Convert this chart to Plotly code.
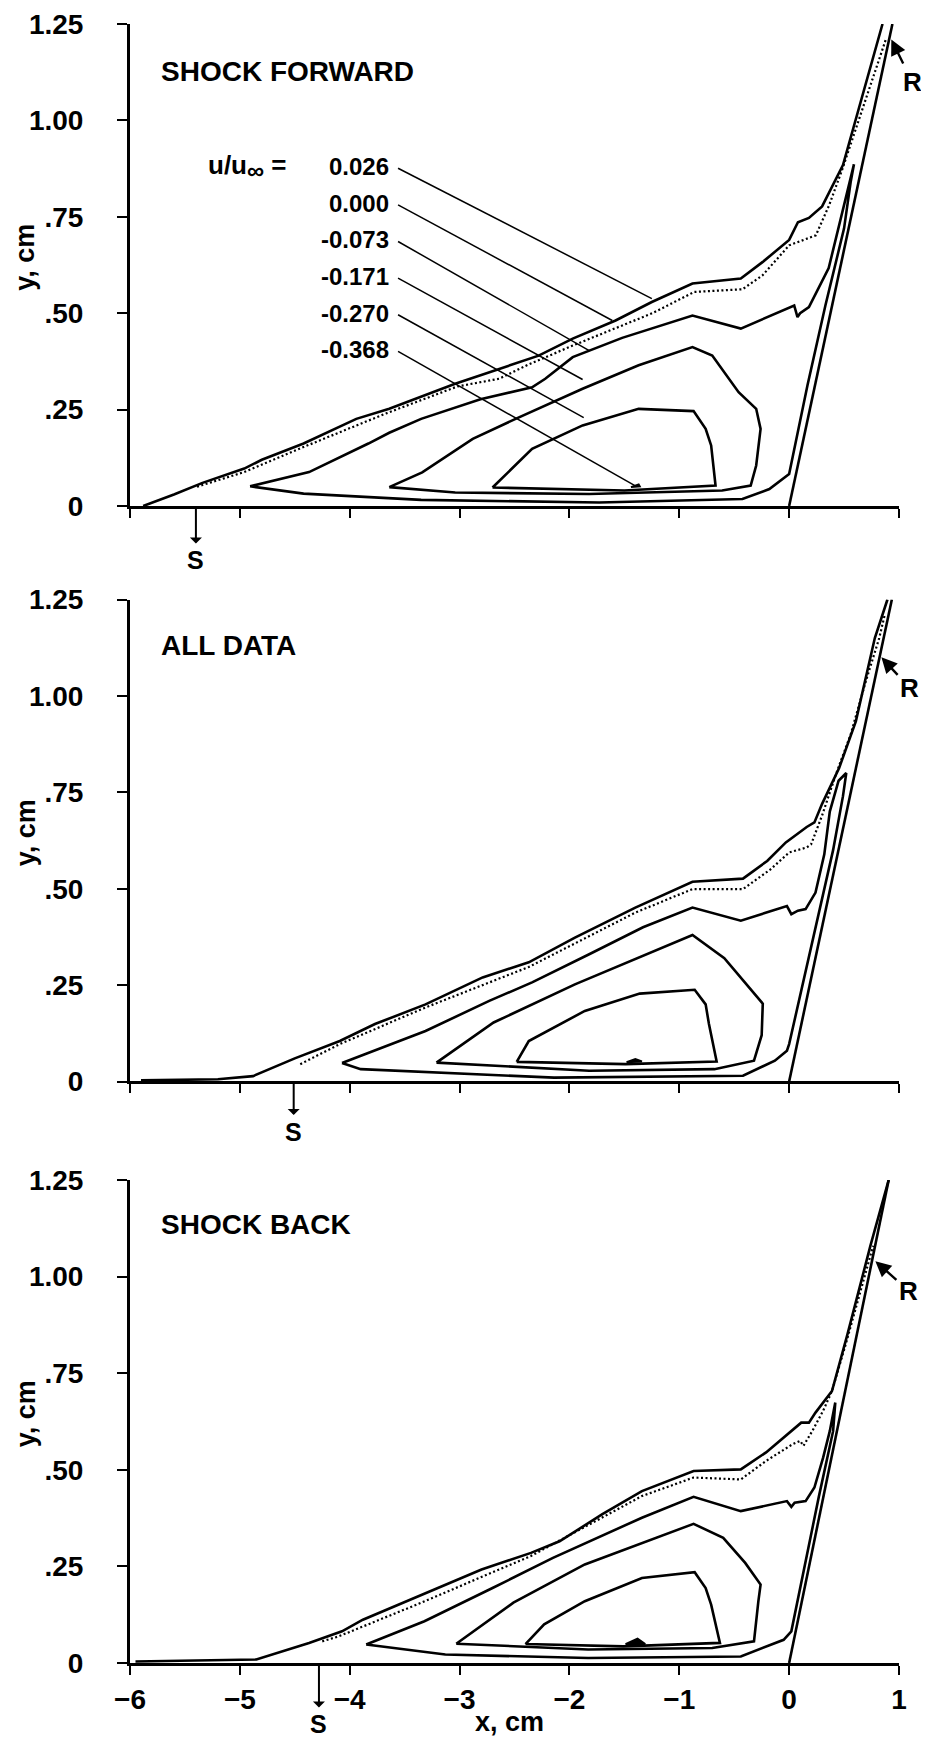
import plotly.graph_objects as go

# ---------------- text / ticks ----------------
PANEL_TITLES = ["SHOCK FORWARD", "ALL DATA", "SHOCK BACK"]
PANEL_TITLE_Y = [1.128, 1.13, 1.135]
LEVEL_LABELS = ["0.026", "0.000", "-0.073", "-0.171", "-0.270", "-0.368"]
LEVEL_LABEL_Y = [0.88, 0.785, 0.69, 0.595, 0.50, 0.405]
LEADER_END_X = [-1.25, -1.61, -1.82, -1.88, -1.87, -1.40]
LEADER_END_Y = [0.538, 0.481, 0.403, 0.328, 0.229, 0.052]
X_TICKS = [-6, -5, -4, -3, -2, -1, 0, 1]
X_TICK_TEXT = ["\u22126", "\u22125", "\u22124", "\u22123", "\u22122", "\u22121", "0", "1"]
Y_TICKS = [0, 0.25, 0.5, 0.75, 1.0, 1.25]
Y_TICK_TEXT = ["0", ".25", ".50", ".75", "1.00", "1.25"]
S_X = [-5.40, -4.51, -4.28]
S_LABEL_Y = [-0.14, -0.13, -0.158]
R_HEAD_X = [0.93, 0.84, 0.785]
R_HEAD_Y = [1.21, 1.10, 1.04]
R_LABEL_X = [1.12, 1.10, 1.09]
R_LABEL_Y = [1.10, 1.02, 0.963]

# ---------------- panel 1: shock forward ----------------
p1_c026_x = [-5.88, -5.6, -5.34, -4.96, -4.80, -4.42, -3.94, -3.64, -3.04, -2.64, -2.28, -1.97, -1.58,
             -1.25, -0.88, -0.44, -0.24, 0.0, 0.03, 0.08, 0.18, 0.30, 0.49, 0.85]
p1_c026_y = [0.0, 0.03, 0.06, 0.097, 0.12, 0.162, 0.226, 0.252, 0.317, 0.356, 0.39, 0.434, 0.481,
             0.529, 0.577, 0.59, 0.633, 0.69, 0.708, 0.736, 0.747, 0.777, 0.884, 1.25]
p1_c000_x = [-5.39, -4.96, -4.42, -3.67, -3.02, -2.64, -2.38, -1.97, -1.245, -0.865, -0.425, -0.243,
             0.0, 0.09, 0.243, 0.364, 0.486, 0.668, 0.88]
p1_c000_y = [0.05, 0.088, 0.153, 0.24, 0.31, 0.33, 0.366, 0.416, 0.50, 0.555, 0.562, 0.598,
             0.676, 0.685, 0.702, 0.78, 0.875, 1.03, 1.21]
p1_c073_x = [-4.907, -4.37, -3.83, -3.64, -3.35, -2.81, -2.34, -2.22, -1.97, -1.52, -0.88, -0.44, 0.046,
             0.076, 0.10, 0.18, 0.36, 0.546, 0.59, 0.56, 0.50, 0.33, 0.167, 0.0, -0.18, -0.425,
             -1.73, -3.35, -4.42, -4.907]
p1_c073_y = [0.051, 0.088, 0.162, 0.19, 0.226, 0.277, 0.308, 0.33, 0.386, 0.436, 0.494, 0.46, 0.52,
             0.49, 0.50, 0.516, 0.617, 0.84, 0.886, 0.84, 0.72, 0.52, 0.313, 0.083, 0.044, 0.018,
             0.009, 0.016, 0.032, 0.051]
p1_c171_x = [-3.64, -3.34, -2.88, -2.49, -1.88, -1.37, -0.88, -0.70, -0.46, -0.30, -0.26, -0.30,
             -0.35, -0.61, -1.82, -3.04, -3.64]
p1_c171_y = [0.049, 0.087, 0.174, 0.226, 0.304, 0.365, 0.412, 0.39, 0.295, 0.252, 0.2, 0.105,
             0.053, 0.04, 0.031, 0.035, 0.049]
p1_c270_x = [-2.70, -2.34, -1.88, -1.37, -0.87, -0.76, -0.71, -0.67, -1.5, -2.70]
p1_c270_y = [0.048, 0.148, 0.209, 0.252, 0.246, 0.20, 0.157, 0.053, 0.040, 0.048]
p1_c368_x = [-1.44, -1.36, -1.37, -1.44]
p1_c368_y = [0.049, 0.051, 0.056, 0.049]
p1_ramp_x = [0.0, 0.94]
p1_ramp_y = [0.0, 1.25]

# ---------------- panel 2: all data ----------------
p2_c026_x = [-5.9, -5.2, -4.88, -4.5, -4.09, -3.77, -3.31, -2.79, -2.37, -1.95, -1.40, -0.88, -0.42,
             -0.20, -0.03, 0.16, 0.23, 0.30, 0.455, 0.607, 0.78, 0.895]
p2_c026_y = [0.003, 0.006, 0.014, 0.06, 0.105, 0.149, 0.20, 0.27, 0.309, 0.373, 0.451, 0.518, 0.526,
             0.572, 0.62, 0.66, 0.672, 0.72, 0.813, 0.934, 1.15, 1.25]
p2_c000_x = [-4.45, -4.09, -3.31, -2.37, -1.40, -0.88, -0.42, -0.17, 0.0, 0.16, 0.20, 0.30, 0.425,
             0.56, 0.70, 0.82, 0.87]
p2_c000_y = [0.045, 0.097, 0.192, 0.297, 0.438, 0.499, 0.499, 0.55, 0.594, 0.607, 0.615, 0.69, 0.796,
             0.90, 1.04, 1.15, 1.21]
p2_c073_x = [-4.07, -3.77, -3.31, -2.73, -2.34, -1.82, -1.33, -0.88, -0.44, -0.02, 0.02, 0.08, 0.15,
             0.24, 0.32, 0.37, 0.45, 0.52, 0.49, 0.40, 0.25, 0.10, 0.0, -0.02, -0.13, -0.42, -2.14,
             -3.9, -4.07]
p2_c073_y = [0.048, 0.08, 0.131, 0.209, 0.257, 0.33, 0.40, 0.451, 0.417, 0.455, 0.434, 0.443, 0.447,
             0.49, 0.589, 0.70, 0.78, 0.80, 0.74, 0.60, 0.41, 0.22, 0.097, 0.08, 0.054, 0.015, 0.01,
             0.032, 0.048]
p2_c171_x = [-3.21, -2.69, -1.95, -1.40, -0.88, -0.59, -0.39, -0.24, -0.25, -0.32, -0.68, -1.82, -3.21]
p2_c171_y = [0.049, 0.153, 0.252, 0.317, 0.38, 0.32, 0.252, 0.202, 0.12, 0.054, 0.032, 0.028, 0.049]
p2_c270_x = [-2.48, -2.37, -1.86, -1.36, -0.86, -0.76, -0.73, -0.66, -1.49, -2.48]
p2_c270_y = [0.051, 0.105, 0.183, 0.228, 0.238, 0.20, 0.149, 0.052, 0.045, 0.051]
p2_c368_x = [-1.48, -1.40, -1.34, -1.48]
p2_c368_y = [0.05, 0.058, 0.052, 0.05]
p2_ramp_x = [0.0, 0.935]
p2_ramp_y = [0.0, 1.25]

# ---------------- panel 3: shock back ----------------
p3_c026_x = [-5.95, -5.3, -4.85, -4.37, -4.07, -3.88, -3.45, -2.80, -2.35, -2.09, -1.70, -1.34, -0.87,
             -0.44, -0.21, 0.05, 0.11, 0.18, 0.24, 0.39, 0.53, 0.74, 0.906]
p3_c026_y = [0.004, 0.006, 0.009, 0.052, 0.082, 0.112, 0.164, 0.242, 0.285, 0.315, 0.385, 0.445, 0.497,
             0.501, 0.545, 0.609, 0.622, 0.622, 0.648, 0.704, 0.85, 1.08, 1.25]
p3_c000_x = [-4.25, -4.10, -3.40, -2.35, -1.34, -0.87, -0.44, -0.21, 0.03, 0.10, 0.13, 0.21, 0.31,
             0.39, 0.52, 0.66, 0.765]
p3_c000_y = [0.056, 0.069, 0.15, 0.277, 0.432, 0.48, 0.475, 0.523, 0.566, 0.575, 0.562, 0.60, 0.653,
             0.704, 0.83, 0.97, 1.08]
p3_c073_x = [-3.85, -3.32, -2.70, -2.15, -1.34, -0.87, -0.44, -0.02, 0.02, 0.05, 0.15, 0.23, 0.31,
             0.37, 0.42, 0.40, 0.27, 0.12, 0.02, -0.05, -0.44, -1.83, -3.13, -3.85]
p3_c073_y = [0.048, 0.108, 0.194, 0.272, 0.376, 0.43, 0.393, 0.419, 0.404, 0.415, 0.419, 0.454, 0.532,
             0.60, 0.674, 0.60, 0.43, 0.22, 0.082, 0.06, 0.017, 0.013, 0.022, 0.048]
p3_c171_x = [-3.03, -2.51, -1.86, -1.34, -0.87, -0.60, -0.40, -0.26, -0.28, -0.32, -0.70, -1.83, -3.03]
p3_c171_y = [0.05, 0.156, 0.255, 0.311, 0.36, 0.324, 0.259, 0.203, 0.16, 0.056, 0.039, 0.035, 0.05]
p3_c270_x = [-2.40, -2.23, -1.86, -1.34, -0.86, -0.76, -0.71, -0.63, -1.51, -2.40]
p3_c270_y = [0.049, 0.10, 0.16, 0.22, 0.235, 0.194, 0.151, 0.052, 0.043, 0.049]
p3_c368_x = [-1.49, -1.38, -1.31, -1.49]
p3_c368_y = [0.049, 0.063, 0.049, 0.049]
p3_ramp_x = [0.0, 0.906]
p3_ramp_y = [0.0, 1.25]

PANELS = [
    dict(c026=(p1_c026_x, p1_c026_y), c000=(p1_c000_x, p1_c000_y), c073=(p1_c073_x, p1_c073_y),
         c171=(p1_c171_x, p1_c171_y), c270=(p1_c270_x, p1_c270_y), c368=(p1_c368_x, p1_c368_y),
         ramp=(p1_ramp_x, p1_ramp_y)),
    dict(c026=(p2_c026_x, p2_c026_y), c000=(p2_c000_x, p2_c000_y), c073=(p2_c073_x, p2_c073_y),
         c171=(p2_c171_x, p2_c171_y), c270=(p2_c270_x, p2_c270_y), c368=(p2_c368_x, p2_c368_y),
         ramp=(p2_ramp_x, p2_ramp_y)),
    dict(c026=(p3_c026_x, p3_c026_y), c000=(p3_c000_x, p3_c000_y), c073=(p3_c073_x, p3_c073_y),
         c171=(p3_c171_x, p3_c171_y), c270=(p3_c270_x, p3_c270_y), c368=(p3_c368_x, p3_c368_y),
         ramp=(p3_ramp_x, p3_ramp_y)),
]

FONT = "Liberation Sans, Arial, Helvetica, sans-serif"
BLACK = "#000000"
LW = 2.6


def bold(size):
    return dict(size=size, family=FONT, color=BLACK, weight="bold")


fig = go.Figure()
axis_ids = [("x", "y"), ("x2", "y2"), ("x3", "y3")]

for i, (pan, (xa, ya)) in enumerate(zip(PANELS, axis_ids)):
    for key in ["c026", "c073", "c171", "c270", "ramp"]:
        xs, ys = pan[key]
        fig.add_trace(go.Scatter(x=xs, y=ys, mode="lines", xaxis=xa, yaxis=ya,
                                 line=dict(color=BLACK, width=LW), showlegend=False, hoverinfo="skip"))
    xs, ys = pan["c000"]
    fig.add_trace(go.Scatter(x=xs, y=ys, mode="lines", xaxis=xa, yaxis=ya,
                             line=dict(color=BLACK, width=2.2, dash="2px,2.5px"),
                             showlegend=False, hoverinfo="skip"))
    xs, ys = pan["c368"]
    fig.add_trace(go.Scatter(x=xs, y=ys, mode="lines", xaxis=xa, yaxis=ya, fill="toself",
                             fillcolor=BLACK, line=dict(color=BLACK, width=2),
                             showlegend=False, hoverinfo="skip"))

# leader lines (panel 1)
LEADER_START_X = -3.56
for ex, ey, ly in zip(LEADER_END_X, LEADER_END_Y, LEVEL_LABEL_Y):
    fig.add_trace(go.Scatter(x=[LEADER_START_X, ex], y=[ly - 0.004, ey], mode="lines",
                             xaxis="x", yaxis="y", line=dict(color=BLACK, width=1.5),
                             showlegend=False, hoverinfo="skip"))

annotations = []
for i, (xa, ya) in enumerate(axis_ids):
    annotations.append(dict(x=-5.74, y=PANEL_TITLE_Y[i], xref=xa, yref=ya, text=PANEL_TITLES[i],
                            showarrow=False, xanchor="left", yanchor="middle", font=bold(28)))
    # y axis title
    annotations.append(dict(x=-0.136, y=0.645, xref="paper", yref=ya, text="y, cm", textangle=-90,
                            showarrow=False, xanchor="center", yanchor="middle", font=bold(27)))
    # R marker
    annotations.append(dict(x=R_HEAD_X[i], y=R_HEAD_Y[i], ax=R_LABEL_X[i], ay=R_LABEL_Y[i],
                            xref=xa, yref=ya, axref=xa, ayref=ya, text="R", showarrow=True,
                            arrowhead=2, arrowsize=1.3, arrowwidth=2.4, arrowcolor=BLACK,
                            standoff=0, startstandoff=2, font=bold(26)))
    # S marker (arrow from the axis down to the label)
    annotations.append(dict(x=S_X[i], y=0, ax=S_X[i], ay=S_LABEL_Y[i],
                            xref=xa, yref=ya, axref=xa, ayref=ya, text="S", showarrow=True,
                            arrowhead=2, arrowsize=1.5, arrowwidth=2, arrowcolor=BLACK,
                            arrowside="start", standoff=2, startstandoff=1, font=bold(25)))

annotations.append(dict(x=-4.55, y=LEVEL_LABEL_Y[0], xref="x", yref="y",
                        text="u/u<sub><span style='font-size:24px'>\u221e</span></sub> =",
                        showarrow=False, xanchor="right", yanchor="middle", font=bold(26)))
for lab, ly in zip(LEVEL_LABELS, LEVEL_LABEL_Y):
    annotations.append(dict(x=-3.62, y=ly, xref="x", yref="y", text=lab, showarrow=False,
                            xanchor="right", yanchor="middle", font=bold(24)))

annotations.append(dict(x=-2.55, y=-0.036, xref="x3", yref="paper", text="x, cm", showarrow=False,
                        xanchor="center", yanchor="middle", font=bold(27)))

Y_DOMAINS = [[0.70592, 1.0], [0.35479, 0.64887], [0.0, 0.29469]]

layout = dict(
    width=929, height=1738,
    margin=dict(l=122, r=38, t=16, b=83, autoexpand=False),
    template="none",
    paper_bgcolor="white", plot_bgcolor="white",
    font=bold(24),
    showlegend=False,
    annotations=annotations,
)

for i, (xa, ya) in enumerate(axis_ids):
    xkey = "xaxis" if i == 0 else f"xaxis{i+1}"
    ykey = "yaxis" if i == 0 else f"yaxis{i+1}"
    layout[xkey] = dict(range=[-6, 1], domain=[0, 1], anchor=ya, showgrid=False, zeroline=False,
                        showline=True, linecolor=BLACK, linewidth=3, ticks="outside",
                        ticklen=9, tickwidth=2, tickcolor=BLACK, tickvals=X_TICKS,
                        ticktext=X_TICK_TEXT, showticklabels=(i == 2), automargin=False,
                        ticklabelstandoff=0, tickfont=bold(28))
    layout[ykey] = dict(range=[0, 1.25], domain=Y_DOMAINS[i], anchor=xa, showgrid=False,
                        zeroline=False, showline=True, linecolor=BLACK, linewidth=3,
                        ticks="outside", ticklen=10, tickwidth=2, tickcolor=BLACK,
                        tickvals=Y_TICKS, ticktext=Y_TICK_TEXT, automargin=False,
                        ticklabelstandoff=28, tickfont=bold(28))

fig.update_layout(**layout)
fig.write_html("out.html")
